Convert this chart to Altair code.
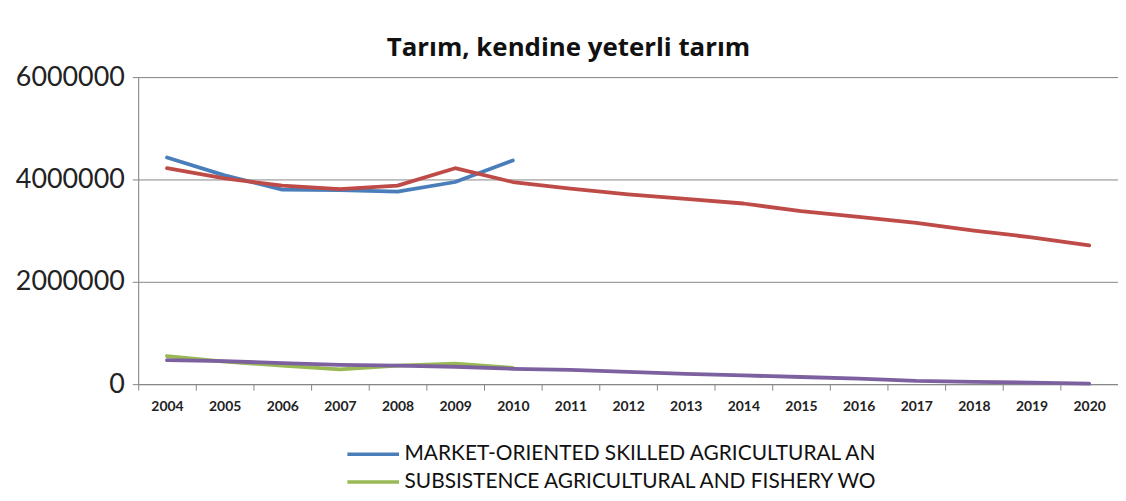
import altair as alt
import pandas as pd

years = [str(y) for y in range(2004, 2021)]

market_name = "MARKET-ORIENTED SKILLED AGRICULTURAL AN"
market_trend_name = "MARKET-ORIENTED SKILLED AGRICULTURAL AN (trend)"
subs_name = "SUBSISTENCE AGRICULTURAL AND FISHERY WO"
subs_trend_name = "SUBSISTENCE AGRICULTURAL AND FISHERY WO (trend)"

# 2004-2010
market = [4430000, 4080000, 3800000, 3790000, 3760000, 3950000, 4370000]
subsistence = [550000, 440000, 360000, 290000, 360000, 400000, 320000]
# 2004-2020
market_trend = [4220000, 4020000, 3880000, 3810000, 3880000, 4220000, 3950000,
                3820000, 3710000, 3620000, 3530000, 3380000, 3270000, 3150000,
                3000000, 2870000, 2710000]
subsistence_trend = [470000, 450000, 410000, 375000, 360000, 340000, 300000,
                     280000, 240000, 200000, 170000, 140000, 110000, 65000,
                     45000, 30000, 10000]

series_names = [market_name, market_trend_name, subs_name, subs_trend_name]
series_colors = ["#4A7EBB", "#BE4B48", "#98B954", "#7D60A0"]
legend_names = [market_name, subs_name]

rows = []
for name, vals in [(market_name, market), (market_trend_name, market_trend),
                   (subs_name, subsistence), (subs_trend_name, subsistence_trend)]:
    for y, v in zip(years, vals):
        rows.append({"Yıl": y, "Değer": v, "Seri": name})
df = pd.DataFrame(rows)

chart = alt.Chart(df).mark_line(strokeWidth=3.8, strokeCap="round", strokeJoin="round").encode(
    x=alt.X("Yıl:O", sort=years,
            scale=alt.Scale(type="band", paddingInner=0, paddingOuter=0),
            axis=alt.Axis(title=None, labelAngle=0, tickBand="extent", tickSize=6,
                          labelPadding=10, labelFont="Lato", labelFontSize=14,
                          labelFontWeight="bold", labelColor="#222222",
                          domainColor="#868686", tickColor="#868686", grid=False)),
    y=alt.Y("Değer:Q",
            scale=alt.Scale(domain=[0, 6000000], nice=False),
            axis=alt.Axis(title=None, values=[0, 2000000, 4000000, 6000000],
                          format="d", tickSize=6, labelPadding=8,
                          labelFont="Lato", labelFontSize=27, labelColor="#222222",
                          domainColor="#868686", tickColor="#868686",
                          gridColor="#868686", gridWidth=1)),
    color=alt.Color("Seri:N", sort=series_names,
                    scale=alt.Scale(domain=series_names, range=series_colors),
                    legend=alt.Legend(title=None, values=legend_names, orient="none",
                                      legendX=226, legendY=369,
                                      symbolType="M-5.2,0H5.2",
                                      symbolSize=100, symbolStrokeWidth=3.5,
                                      labelFont="Lato", labelFontSize=21,
                                      labelColor="#111111", labelLimit=800,
                                      labelOffset=21, rowPadding=6)),
    order=alt.Order("Yıl:O"),
).properties(
    width=986,
    height=309,
    title=alt.TitleParams("Tarım, kendine yeterli tarım", font="Open Sans", fontSize=26,
                          fontWeight="bold", color="#111111", dx=-60, offset=2,
                          anchor="middle"),
    autosize=alt.AutoSizeParams(type="none"),
    padding={"left": 131, "top": 68, "right": 0, "bottom": 108},
).configure_view(stroke=None).configure(background="white")

chart.save("out.html", embed_options={"renderer": "svg", "actions": False})
